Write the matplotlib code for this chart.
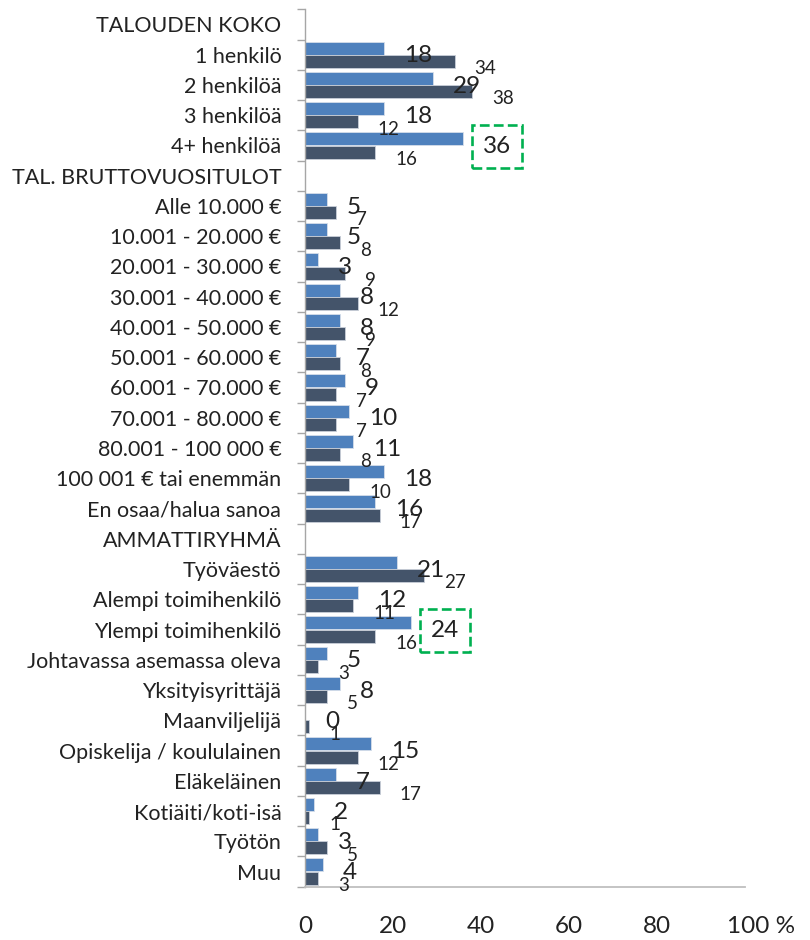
import numpy as np
import matplotlib
matplotlib.use("Agg")
import matplotlib.pyplot as plt
from matplotlib.transforms import ScaledTranslation

plt.rcParams['font.family'] = ['Lato', 'DejaVu Sans']

# Rows top to bottom; header rows have no values
categories = [
    "TALOUDEN KOKO", "1 henkilö", "2 henkilöä", "3 henkilöä", "4+ henkilöä",
    "TAL. BRUTTOVUOSITULOT", "Alle 10.000 €", "10.001 - 20.000 €", "20.001 - 30.000 €",
    "30.001 - 40.000 €", "40.001 - 50.000 €", "50.001 - 60.000 €", "60.001 - 70.000 €",
    "70.001 - 80.000 €", "80.001 - 100 000 €", "100 001 € tai enemmän", "En osaa/halua sanoa",
    "AMMATTIRYHMÄ", "Työväestö", "Alempi toimihenkilö", "Ylempi toimihenkilö",
    "Johtavassa asemassa oleva", "Yksityisyrittäjä", "Maanviljelijä",
    "Opiskelija / koululainen", "Eläkeläinen", "Kotiäiti/koti-isä", "Työtön", "Muu",
]
nan = np.nan
series_a = [nan, 18, 29, 18, 36,
            nan, 5, 5, 3, 8, 8, 7, 9, 10, 11, 18, 16,
            nan, 21, 12, 24, 5, 8, 0, 15, 7, 2, 3, 4]
series_b = [nan, 34, 38, 12, 16,
            nan, 7, 8, 9, 12, 9, 8, 7, 7, 8, 10, 17,
            nan, 27, 11, 16, 3, 5, 1, 12, 17, 1, 5, 3]
highlight = ["4+ henkilöä", "Ylempi toimihenkilö"]

xticks = [0, 20, 40, 60, 80, 100]
xticklabels = ["0", "20", "40", "60", "80", "100 %"]

BLUE = "#4F81BD"
DARK = "#44546A"
TEXT = "#222222"
GRID = "#A6A6A6"

fig = plt.figure(figsize=(8.1, 9.4), dpi=100)
ax = fig.add_axes([0.3765, 0.0567, 0.5432, 0.9334])

y = np.arange(len(categories))
a = np.array(series_a, dtype=float)
b = np.array(series_b, dtype=float)

ax.barh(y - 0.22, a, height=0.43, color=BLUE, edgecolor="#D5DEEA", linewidth=0.6)
ax.barh(y + 0.22, b, height=0.43, color=DARK, edgecolor="#C9CFD8", linewidth=0.6)

ax.set_xlim(0, 100)
ax.set_ylim(len(categories) - 0.5, -0.5)

# value labels
for i, cat in enumerate(categories):
    if np.isnan(a[i]):
        continue
    box = None
    if cat in highlight:
        box = dict(boxstyle="square,pad=0.45", fc="none", ec="#00B050",
                   ls="--", lw=1.9)
    ax.annotate(f"{a[i]:.0f}", xy=(a[i], y[i] + 0.04), xytext=(14.4, 0),
                textcoords="offset points", ha="left", va="center",
                fontsize=17.5, color=TEXT, bbox=box)
    ax.annotate(f"{b[i]:.0f}", xy=(b[i], y[i] + 0.46), xytext=(14.4, 0),
                textcoords="offset points", ha="left", va="center",
                fontsize=13.5, color=TEXT)

# y axis: tick marks at row boundaries, labels at row centres
ax.set_yticks(np.arange(len(categories) + 1) - 0.5)
ax.set_yticklabels([])
ax.set_yticks(y, minor=True)
ax.set_yticklabels(categories, minor=True, fontsize=15.5, color=TEXT)
ax.tick_params(axis="y", which="major", length=5.8, width=1, color=GRID, direction="out")
ax.tick_params(axis="y", which="minor", length=0, pad=17)

ax.set_xticks(xticks)
ax.set_xticklabels(xticklabels, fontsize=17.5, color=TEXT)
ax.tick_params(axis="x", length=0, pad=21)
# the "100 %" label sits with its number over the tick
last = ax.get_xticklabels()[-1]
last.set_transform(last.get_transform() + ScaledTranslation(16 / 100, 0, fig.dpi_scale_trans))

for side in ["top", "right"]:
    ax.spines[side].set_visible(False)
ax.spines["left"].set_color(GRID)
ax.spines["left"].set_linewidth(1)
ax.spines["bottom"].set_color("#BFBFBF")
ax.spines["bottom"].set_linewidth(1.3)

fig.savefig("out.png", dpi=100)
